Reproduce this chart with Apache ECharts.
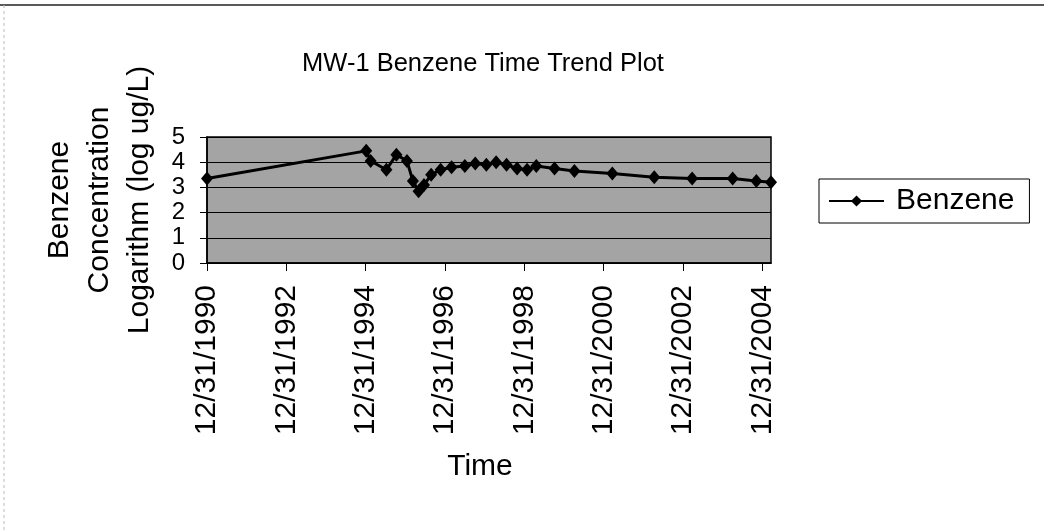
<!DOCTYPE html>
<html>
<head>
<meta charset="utf-8">
<script src="https://cdn.jsdelivr.net/npm/echarts@6/dist/echarts.min.js"></script>
<style>
  html, body { margin: 0; padding: 0; background: #ffffff; }
  #chart { width: 1044px; height: 531px; }
</style>
</head>
<body>
<div id="chart"></div>
<script>
// ---- data ----
const sampleDates = [
  '1990-12-31', '1995-01-05', '1995-02-15', '1995-07-10', '1995-10-10',
  '1996-01-15', '1996-03-10', '1996-05-01', '1996-06-20', '1996-08-25',
  '1996-11-20', '1997-03-01', '1997-07-01', '1997-10-05', '1998-01-15',
  '1998-04-15', '1998-07-20', '1998-10-25', '1999-01-25', '1999-04-20',
  '1999-10-05', '2000-04-05', '2001-03-20', '2002-04-10', '2003-03-25',
  '2004-04-01', '2004-11-05', '2005-03-20'
];
const benzeneLog = [
  3.35, 4.45, 4.05, 3.70, 4.30,
  4.05, 3.25, 2.85, 3.10, 3.50,
  3.70, 3.80, 3.85, 3.95, 3.90,
  4.00, 3.90, 3.75, 3.70, 3.85,
  3.75, 3.65, 3.55, 3.40, 3.35,
  3.35, 3.25, 3.20
];
const xTickDates = [
  '1990-12-31', '1992-12-31', '1994-12-31', '1996-12-31',
  '1998-12-31', '2000-12-31', '2002-12-31', '2004-12-31'
];
const yTicks = [0, 1, 2, 3, 4, 5];
const seriesName = 'Benzene';
const titleText = 'MW-1 Benzene Time Trend Plot';
const xAxisName = 'Time';
const yAxisName = 'Benzene\nConcentration\nLogarithm (log ug/L)';

function toTs(s) {
  const p = s.split('-').map(Number);
  return Date.UTC(p[0], p[1] - 1, p[2]);
}
function fmtDate(ts) {
  const d = new Date(ts);
  return (d.getUTCMonth() + 1) + '/' + d.getUTCDate() + '/' + d.getUTCFullYear();
}

const FONT = '"Liberation Sans", Arial, sans-serif';
const chart = echarts.init(document.getElementById('chart'), null, { renderer: 'canvas' });
const xTickValues = xTickDates.map(toTs);

const option = {
  backgroundColor: '#ffffff',
  animation: false,
  title: {
    text: titleText,
    left: 478,
    top: 46,
    textAlign: 'center',
    textStyle: { fontFamily: FONT, fontSize: 25.5, fontWeight: 'normal', color: '#000' }
  },
  legend: {
    left: 819,
    top: 179,
    orient: 'vertical',
    data: [seriesName],
    backgroundColor: '#fff',
    borderColor: '#000',
    borderWidth: 1,
    borderRadius: 0,
    padding: [7, 15, 7, 9],
    itemWidth: 55,
    itemHeight: 14,
    itemGap: 0,
    textStyle: { fontFamily: FONT, fontSize: 30, color: '#000', padding: [0, 0, 0, 7] }
  },
  grid: {
    left: 207, top: 137, right: 273, bottom: 268,
    show: true,
    backgroundColor: '#a4a4a4',
    borderColor: '#000',
    borderWidth: 1.5
  },
  xAxis: {
    type: 'value',
    min: xTickValues[0],
    max: toTs(sampleDates[sampleDates.length - 1]),
    name: xAxisName,
    nameLocation: 'middle',
    nameGap: 189,
    nameTextStyle: { fontFamily: FONT, fontSize: 30, color: '#000', padding: [0, 18, 0, 0] },
    axisLine: { show: true, lineStyle: { color: '#000', width: 1.5 } },
    axisTick: {
      show: true, length: 8, inside: false,
      customValues: xTickValues,
      lineStyle: { color: '#000' }
    },
    axisLabel: {
      show: true,
      rotate: 90,
      margin: 22,
      customValues: xTickValues,
      formatter: function (v) { return fmtDate(v); },
      fontFamily: FONT, fontSize: 30, color: '#000',
      hideOverlap: false,
      showMinLabel: true,
      showMaxLabel: true
    },
    splitLine: { show: false }
  },
  yAxis: {
    type: 'value',
    min: yTicks[0],
    max: yTicks[yTicks.length - 1],
    interval: 1,
    name: yAxisName,
    nameLocation: 'middle',
    nameRotate: 90,
    nameGap: 47,
    nameTextStyle: { fontFamily: FONT, fontSize: 30, color: '#000', lineHeight: 40, align: 'center' },
    axisLine: { show: true, lineStyle: { color: '#000', width: 1.5 } },
    axisTick: { show: true, length: 7, inside: false, lineStyle: { color: '#000' } },
    axisLabel: {
      margin: 22, fontFamily: FONT, fontSize: 24, lineHeight: 22, color: '#000',
      hideOverlap: false, showMinLabel: true, showMaxLabel: true
    },
    splitLine: { show: true, lineStyle: { color: '#000', width: 1 } }
  },
  series: [{
    name: seriesName,
    type: 'line',
    data: sampleDates.map(function (d, i) { return [toTs(d), benzeneLog[i]]; }),
    symbol: 'diamond',
    symbolSize: [12, 14],
    showSymbol: true,
    itemStyle: { color: '#000' },
    lineStyle: { color: '#000', width: 3 }
  }],
  graphic: [
    { type: 'line', shape: { x1: 0, y1: 5, x2: 1044, y2: 5 }, style: { stroke: '#222', lineWidth: 1.5 } },
    { type: 'line', shape: { x1: 4, y1: 5, x2: 4, y2: 531 }, style: { stroke: '#bbb', lineWidth: 1, lineDash: [3, 3] } }
  ]
};
chart.setOption(option);
</script>
</body>
</html>
